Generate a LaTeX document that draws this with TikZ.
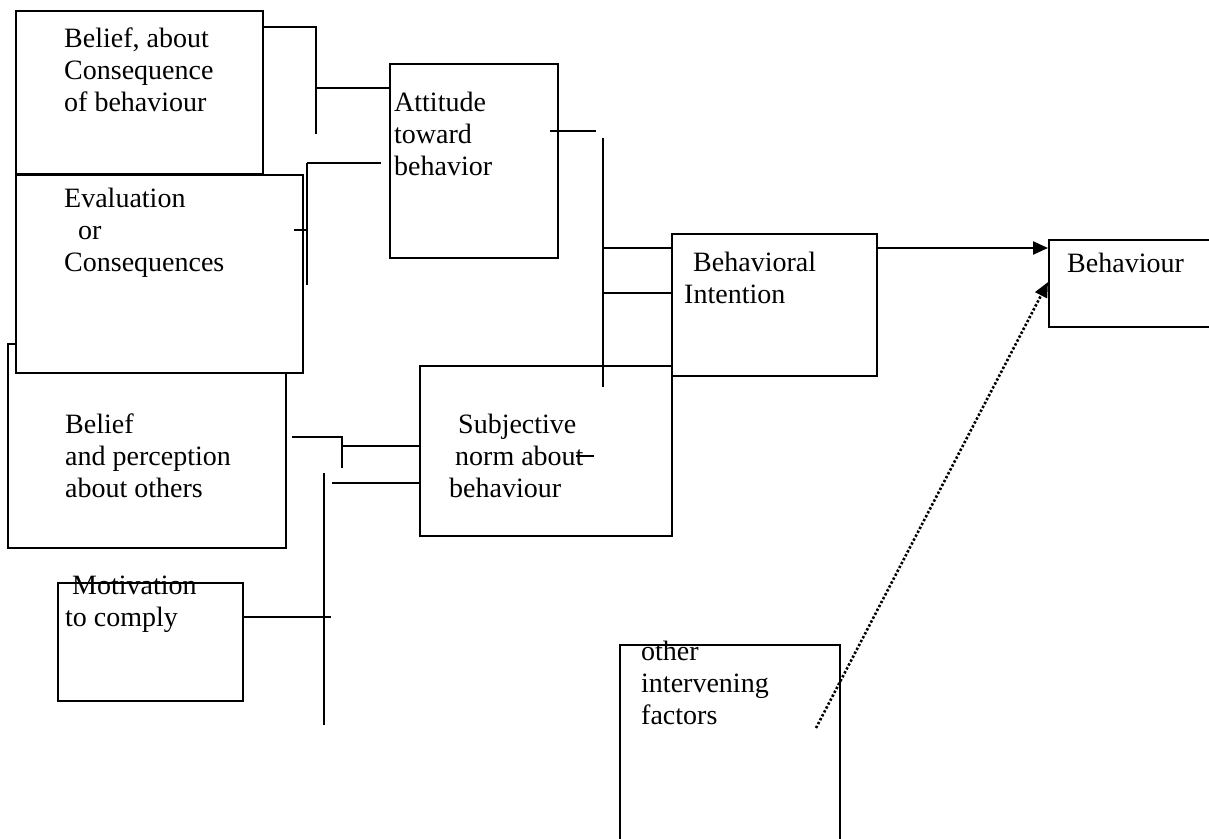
\documentclass[tikz,border=0pt]{standalone}
\usepackage{fontspec}
\setmainfont{Liberation Serif}
\usetikzlibrary{arrows.meta}

\tikzset{
  box/.style 2 args={draw, line width=1.6pt, anchor=north west, inner sep=0pt,
    minimum width=#1, minimum height=#2},
  txt/.style={anchor=base west, align=left, inner sep=0pt,
    font=\fontsize{28}{32}\selectfont},
  link/.style={line width=1.5pt},
}

\begin{document}
\begin{tikzpicture}[x=1pt, y=-1pt]
	% page
	\fill[white] (0,0) rectangle (1209,838);
	\useasboundingbox (0,0) rectangle (1209,838);
	
	% Boxes (the later ones cover the earlier ones)
	\node[box={247pt}{163pt}] (belief) at (15,10) {};
	\node[box={278pt}{204pt}] (perception) at (7,343) {};
	\node[box={287pt}{198pt}, fill=white] (evaluation) at (15,174) {};
	\node[box={185pt}{118pt}] (motivation) at (57,582) {};
	\node[box={168pt}{194pt}] (attitude) at (389,63) {};
	\node[box={252pt}{170pt}] (subjective) at (419,365) {};
	\node[box={205pt}{142pt}] (intention) at (671,233) {};
	\node[box={200pt}{87pt}] (behaviour) at (1048,239) {};
	\node[box={220pt}{230pt}] (others) at (619,644) {};
	
	% Texts (placed at the baseline of their last line)
	\node[txt] (beliefTxt) at (64,111) {Belief, about\\Consequence\\of behaviour};
	\node[txt] (evaluationTxt) at (64,271) {Evaluation\\\hspace*{14pt}or\\Consequences};
	\node[txt] (attitudeTxt) at (394,175) {Attitude\\toward\\behavior};
	\node[txt] (perceptionTxt) at (65,497) {Belief\\and perception\\about others};
	\node[txt] (motivationTxt) at (65,626) {\hspace*{7pt}Motivation\\to comply};
	\node[txt] (subjectiveTxt) at (449,497) {\hspace*{9pt}Subjective\\\hspace*{6pt}norm about\\behaviour};
	\node[txt] (intentionTxt) at (684,303) {\hspace*{9pt}Behavioral\\Intention};
	\node[txt] (behaviourTxt) at (1067,272) {Behaviour};
	\node[txt] (othersTxt) at (641,724) {other\\intervening\\factors};
	
	% Junction points
	\coordinate (jA) at (316,27);
	\coordinate (jE) at (307,163);
	\coordinate (jI) at (603,138);
	\coordinate (jP) at (342,437);
	\coordinate (jM) at (324,473);
	
	% Lines into the attitude box
	\draw[link] (belief.east |- jA) -- (jA) -- ++(0,107);
	\draw[link] (316,88) -- (attitude.west |- 0,88);
	\draw[link] (294,230) -- (307,230);
	\draw[link] (jE) -- ++(0,122);
	\draw[link] (jE) -- ++(74,0);
	
	% Lines into the intention box
	\draw[link] (550,131) -- (596,131);
	\draw[link] (jI) -- ++(0,249);
	\draw[link] (603,248) -- (intention.west |- 0,248);
	\draw[link] (603,293) -- (intention.west |- 0,293);
	
	% Lines into the subjective box
	\draw[link] (292,437) -- (jP) -- ++(0,31);
	\draw[link] (342,446) -- (subjective.west |- 0,446);
	\draw[link] (332,483) -- (subjective.west |- 0,483);
	\draw[link] (jM) -- ++(0,252);
	\draw[link] (motivation.east |- 0,617) -- (331,617);
	\draw[link] (576,456) -- (594,456);
	
	% Arrows into behaviour
	\draw[line width=2.2pt, -{Triangle[length=15pt, width=13pt]}]
		(intention.east |- 0,248) -- (behaviour.west |- 0,248);
	\draw[line width=2.6pt, dash pattern=on 2.4pt off 2pt, -{Triangle[length=15pt, width=13pt]}]
		(816,728) -- (1048,282);
	
\end{tikzpicture}
\end{document}
